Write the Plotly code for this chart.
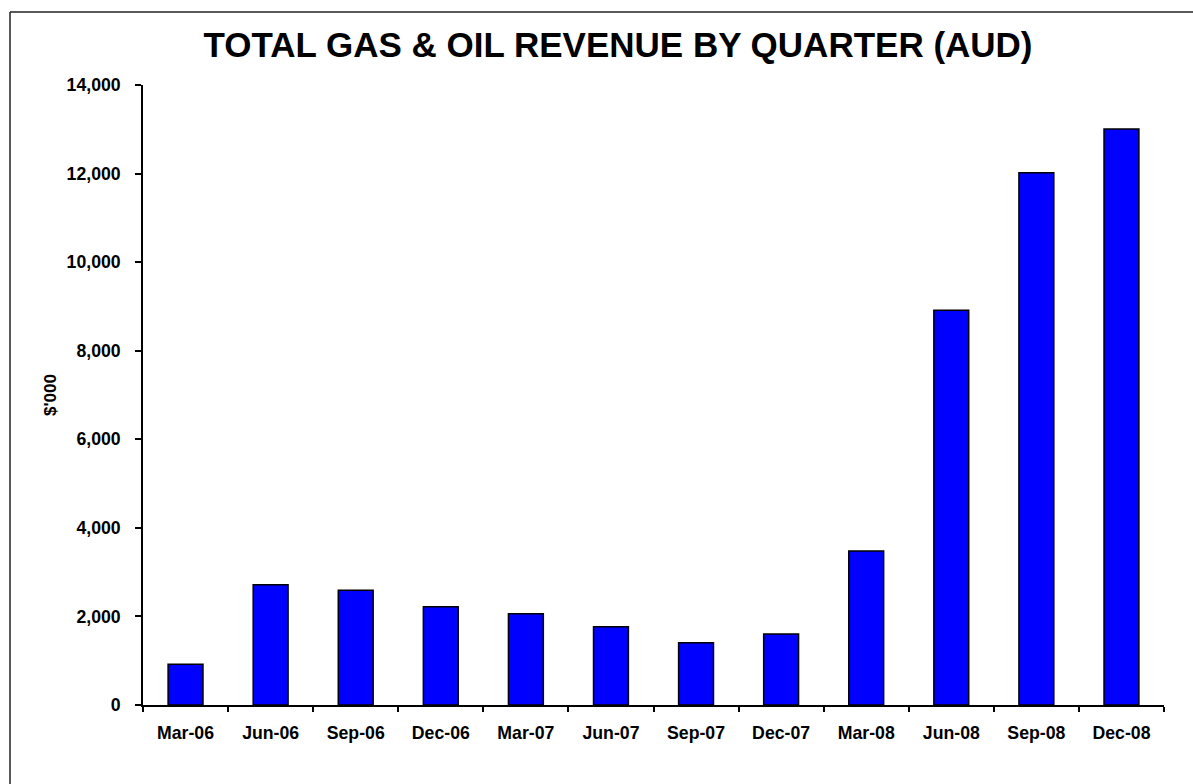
import plotly.graph_objects as go

quarters = ["Mar-06", "Jun-06", "Sep-06", "Dec-06", "Mar-07", "Jun-07",
            "Sep-07", "Dec-07", "Mar-08", "Jun-08", "Sep-08", "Dec-08"]
revenue = [918, 2717, 2590, 2220, 2062, 1768, 1407, 1603, 3477, 8912, 12020, 13006]

W, H = 1193, 784
L, R, T, B = 143, 1164, 85, 705
pw, ph = R - L, B - T

def px_x(x):
    return (x - L) / pw

def px_y(y):
    return (B - y) / ph

FONT = "Liberation Sans, Arial, sans-serif"

fig = go.Figure(go.Bar(
    x=quarters, y=revenue,
    marker=dict(color="#0000FF", line=dict(color="black", width=1.5)),
))

frame = dict(color="#222222", width=1.5)

fig.update_layout(
    width=W, height=H,
    margin=dict(l=L, r=W - R, t=T, b=H - B, autoexpand=False),
    paper_bgcolor="white", plot_bgcolor="white",
    bargap=0.59,
    showlegend=False,
    font=dict(family=FONT, color="black"),
    title=dict(text="TOTAL GAS &amp; OIL REVENUE BY QUARTER (AUD)",
               font=dict(family=FONT, size=35, weight="bold", color="black"),
               x=px_x(618), xref="paper", xanchor="center",
               y=1 - 44.5 / H, yref="container", yanchor="middle"),
    xaxis=dict(showline=True, linecolor="black", linewidth=1.5,
               ticks="outside", ticklen=5, tickcolor="black", tickwidth=1.5,
               tickson="boundaries", showgrid=False,
               tickfont=dict(family=FONT, size=17.7, weight="bold", color="black"),
               ticklabelstandoff=11),
    yaxis=dict(range=[0, 14000], dtick=2000, tickformat=",",
               showline=True, linecolor="black", linewidth=1.5,
               ticks="outside", ticklen=6, tickcolor="black", tickwidth=1.5,
               showgrid=False, zeroline=False,
               tickfont=dict(family=FONT, size=17.7, weight="bold", color="black"),
               ticklabelstandoff=11),
    annotations=[dict(text="$'000", textangle=-90, showarrow=False,
                      xref="paper", yref="paper", x=px_x(50), y=px_y(395),
                      xanchor="center", yanchor="middle",
                      font=dict(family=FONT, size=17, weight="bold", color="black"))],
    shapes=[
        dict(type="line", xref="paper", yref="paper",
             x0=px_x(10), x1=px_x(W), y0=px_y(12), y1=px_y(12), line=frame),
        dict(type="line", xref="paper", yref="paper",
             x0=px_x(10), x1=px_x(10), y0=px_y(12), y1=px_y(H), line=frame),
    ],
)

fig.write_html("out.html",
               config={"displayModeBar": False},
               post_script="document.body.style.margin='0';document.body.style.overflow='hidden';")
